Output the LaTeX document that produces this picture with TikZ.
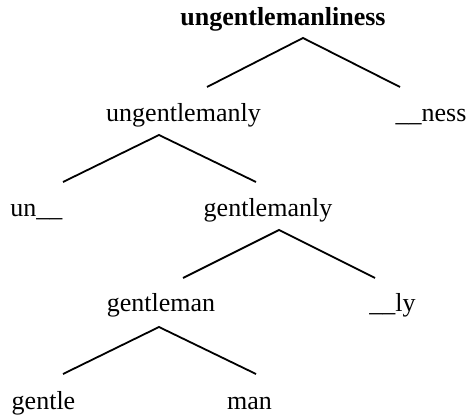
\documentclass[tikz,border=0pt]{standalone}
\usepackage{fontspec}
\setmainfont{Liberation Serif}
\usepackage{tikz}

\begin{document}
\begin{tikzpicture}[x=0.5pt, y=-0.5pt,
    word/.style={font=\fontsize{13}{15}\selectfont, inner sep=0pt, anchor=base},
    branch/.style={line width=0.9pt}]
    \useasboundingbox (0,0) rectangle (469,415);

    % Words of the tree
    \node[word, font=\fontsize{13}{15}\selectfont\bfseries] (whole) at (283,26) {ungentlemanliness};
    \node[word] (ungentlemanly) at (183.5,122) {ungentlemanly};
    \node[word] (ness) at (431,122) {\_\_ness};
    \node[word] (un) at (36.5,217) {un\_\_};
    \node[word] (gentlemanly) at (268,217) {gentlemanly};
    \node[word] (gentleman) at (161,312) {gentleman};
    \node[word] (ly) at (392.5,312) {\_\_ly};
    \node[word] (gentle) at (43.5,409) {gentle};
    \node[word] (man) at (249.5,409) {man};

    % Branch points
    \coordinate (top1) at (303,38);
    \coordinate (left1) at (207,87);
    \coordinate (right1) at (400,87);
    \coordinate (top2) at (159,135);
    \coordinate (left2) at (63,182);
    \coordinate (right2) at (256,182);
    \coordinate (top3) at (279,230);
    \coordinate (left3) at (183,278);
    \coordinate (right3) at (375,278);
    \coordinate (top4) at (159,327);
    \coordinate (left4) at (63,374);
    \coordinate (right4) at (256,374);

    % Branches
    \draw[branch] (left1) -- (top1) -- (right1);
    \draw[branch] (left2) -- (top2) -- (right2);
    \draw[branch] (left3) -- (top3) -- (right3);
    \draw[branch] (left4) -- (top4) -- (right4);

\end{tikzpicture}
\end{document}
